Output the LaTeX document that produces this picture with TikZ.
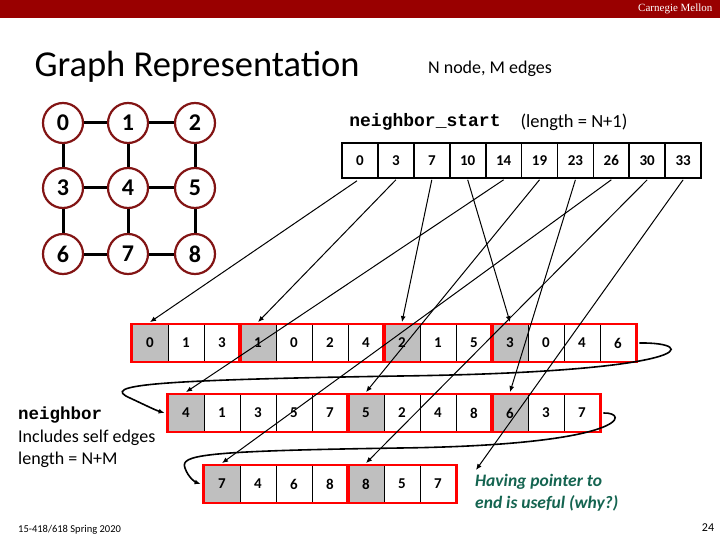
\documentclass[tikz,border=0pt]{standalone}
\usepackage{fontspec}
\setmainfont{Carlito}
\setmonofont{Liberation Mono}
\newfontfamily\cmufont{Liberation Serif}
\usetikzlibrary{arrows.meta,fit}
\begin{document}
\begin{tikzpicture}[x=1pt,y=-1pt,
  vert/.style={circle,draw={rgb,255:red,130;green,20;blue,20},line width=2.2pt,minimum size=40pt,inner sep=0pt,font=\bfseries\fontsize{24}{24}\selectfont},
  gedge/.style={line width=3pt},
  cell/.style={draw,line width=0.8pt,minimum width=36pt,minimum height=37pt,inner sep=0pt,font=\bfseries\fontsize{15}{15}\selectfont},
  hcell/.style={cell,fill=gray!50},
  grp/.style={draw=red,line width=2.5pt,inner sep=0pt},
  ptr/.style={line width=1pt,-{Latex[length=6pt,width=5pt]}}]
\useasboundingbox (0,0) rectangle (720,540);
\fill[fill={rgb,255:red,153;green,0;blue,0}] (0,0) rectangle (720,18);
\node[anchor=east,text=white,font=\cmufont\fontsize{11}{11}\selectfont] (cmu) at (716,9) {Carnegie Mellon};
\node[anchor=west,font=\fontsize{36.5}{36.5}\selectfont] (title) at (31,67) {Graph Representation};
\node[font=\fontsize{18}{18}\selectfont] (nm) at (490,69) {N node, M edges};
% graph
\foreach \i/\x/\y in {0/63/123,1/128/123,2/195/123,3/63/188,4/128/188,5/195/188,6/63/254,7/128/254,8/195/254}
  \node[vert] (v\i) at (\x,\y) {\i};
\foreach \a/\b in {0/1,1/2,3/4,4/5,6/7,7/8,0/3,3/6,1/4,4/7,2/5,5/8}
  \draw[gedge] (v\a) -- (v\b);
% neighbor_start
\node[font=\ttfamily\bfseries\fontsize{18}{18}\selectfont] (nsl) at (425,122) {neighbor\_start};
\node[font=\fontsize{18.5}{18.5}\selectfont] (len1) at (574,122) {(length = N+1)};
\foreach \v [count=\k from 0] in {0,3,7,10,14,19,23,26,30,33}
  \node[cell,line width=1.6pt,minimum height=35pt] (s\k) at (360+35.9*\k,160.5) {\v};
% neighbor rows
\foreach \v [count=\k from 0] in {0,1,3,1,0,2,4,2,1,5,3,0,4,6}
  \node[cell] (a\k) at (150+36*\k,343) {\v};
\foreach \v [count=\k from 0] in {4,1,3,5,7,5,2,4,8,6,3,7}
  \node[cell] (b\k) at (186+36*\k,413) {\v};
\foreach \v [count=\k from 0] in {7,4,6,8,8,5,7}
  \node[cell] (c\k) at (222+36*\k,484) {\v};
\foreach \r/\k/\v in {a/0/0,a/3/1,a/7/2,a/10/3,b/0/4,b/5/5,b/9/6,c/0/7,c/4/8}
  \node[hcell] at (\r\k) {\v};
\node[grp,fit=(a0)(a2)] {};
\node[grp,fit=(a3)(a6)] {};
\node[grp,fit=(a7)(a9)] {};
\node[grp,fit=(a10)(a13)] {};
\node[grp,fit=(b0)(b4)] {};
\node[grp,fit=(b5)(b8)] {};
\node[grp,fit=(b9)(b11)] {};
\node[grp,fit=(c0)(c3)] {};
\node[grp,fit=(c4)(c6)] {};
\coordinate (endp) at (476,470);
% pointers
\draw[ptr] (s0.south) ++(-3,2) -- ([yshift=2pt]a0.north);
\draw[ptr] ([yshift=-1pt]s1.south) -- ([yshift=2pt]a3.north);
\draw[ptr] ([yshift=-1pt]s2.south) -- ([yshift=2pt]a7.north);
\draw[ptr] ([yshift=-1pt]s3.south) -- ([yshift=2pt]a10.north);
\draw[ptr] ([yshift=-1pt]s4.south) -- ([yshift=2pt]b0.north);
\draw[ptr] ([yshift=-1pt]s5.south) -- ([yshift=2pt]b5.north);
\draw[ptr] ([yshift=-1pt]s6.south) -- ([yshift=2pt]b9.north);
\draw[ptr] ([yshift=-1pt]s7.south) -- ([yshift=2pt]c0.north);
\draw[ptr] ([yshift=-1pt]s8.south) -- ([yshift=2pt]c4.north);
\draw[ptr] ([yshift=-1pt]s9.south) -- (endp);
% wraps
\draw[ptr,line width=1.6pt] ([xshift=3pt]a13.east) .. controls (700,342) and (700,372) .. (400,376)
  .. controls (150,380) and (100,385) .. (130,398) .. controls (145,405) and (155,410) .. ([xshift=-3pt]b0.west);
\draw[ptr,line width=1.6pt] ([xshift=3pt]b11.east) .. controls (630,412) and (630,445) .. (400,448)
  .. controls (200,451) and (180,455) .. (185,468) .. controls (188,477) and (195,482) .. ([xshift=-3pt]c0.west);
% texts
\node[anchor=west,inner sep=0pt,font=\ttfamily\bfseries\fontsize{17.5}{17.5}\selectfont] (nb) at (18,415) {neighbor};
\node[anchor=west,inner sep=0pt,font=\fontsize{18}{18}\selectfont] (ise) at (18,438) {Includes self edges};
\node[anchor=west,inner sep=0pt,font=\fontsize{18}{18}\selectfont] (lnm) at (18,460) {length = N+M};
\node[anchor=west,inner sep=0pt,align=left,text={rgb,255:red,20;green,100;blue,80},font=\bfseries\itshape\fontsize{17.5}{22}\selectfont] (why) at (475,493) {Having pointer to\\end is useful (why?)};
\node[anchor=west,inner sep=0pt,font=\fontsize{10.5}{10.5}\selectfont] (foot) at (18,530) {15-418/618 Spring 2020};
\node[font=\fontsize{12}{12}\selectfont] (pg) at (708,528) {24};
\end{tikzpicture}
\end{document}
